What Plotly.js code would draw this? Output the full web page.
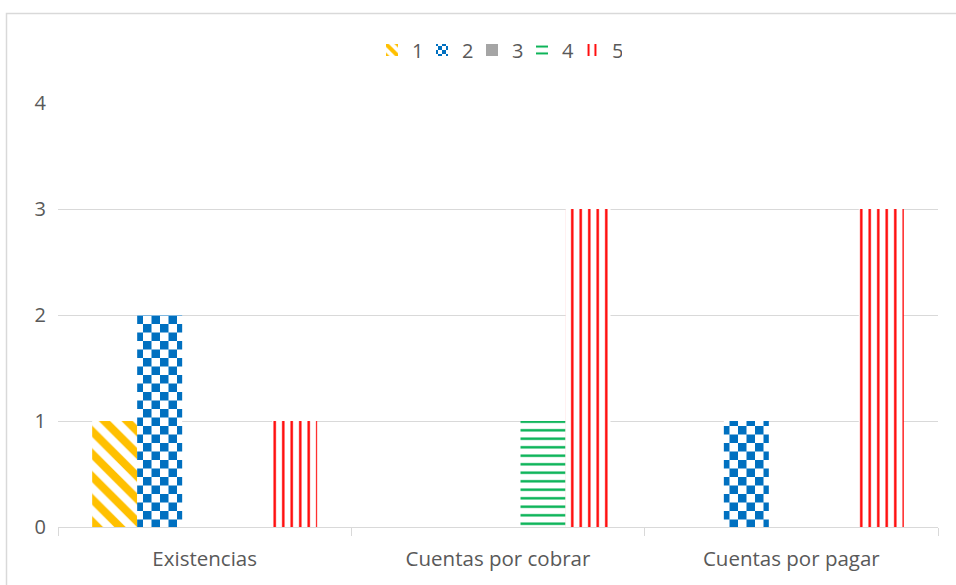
<!DOCTYPE html>
<html>
<head>
<meta charset="utf-8">
<script src="https://cdn.plot.ly/plotly-3.0.1.min.js"></script>
<style>
html,body{margin:0;padding:0;background:#fff;}
#chart{width:956px;height:585px;}
</style>
</head>
<body>
<div id="chart"></div>
<script>
const categories = ["Existencias", "Cuentas por cobrar", "Cuentas por pagar"];
const seriesNames = ["1", "2", "3", "4", "5"];
const s1 = [1, 0, 0];
const s2 = [2, 0, 1];
const s3 = [0, 0, 0];
const s4 = [0, 1, 0];
const s5 = [1, 3, 3];
const yTicks = [0, 1, 2, 3, 4];

const colors = ["#FFC000", "#0070C0", "#A5A5A5", "#00B050", "#FF0000"];
const patterns = [
  {shape: "\\", size: 16, solidity: 0.5},
  {shape: "+", size: 17, solidity: 0.5},
  {shape: "", size: 8, solidity: 0.5},
  {shape: "-", size: 8.5, solidity: 0.28},
  {shape: "|", size: 8.5, solidity: 0.28}
];
const values = [s1, s2, s3, s4, s5];

const traces = values.map((v, i) => ({
  type: "bar",
  name: seriesNames[i],
  x: categories,
  y: v,
  marker: {
    color: patterns[i].shape === "" ? colors[i] : "#ffffff",
    opacity: 1,
    line: {width: 0},
    pattern: patterns[i].shape === "" ? {shape: ""} : {
      shape: patterns[i].shape,
      fgcolor: colors[i],
      fgopacity: 1,
      bgcolor: "#ffffff",
      size: patterns[i].size,
      solidity: patterns[i].solidity,
      fillmode: "replace"
    }
  },
  hoverinfo: "skip"
}));

const plotL = 58, plotR = 938, plotT = 103, plotB = 527;
const W = 956, H = 585;
const pw = plotR - plotL, ph = plotB - plotT;

const layout = {
  width: W, height: H,
  margin: {l: plotL, r: W - plotR, t: plotT, b: H - plotB, pad: 0},
  paper_bgcolor: "#ffffff",
  plot_bgcolor: "#ffffff",
  barmode: "group",
  bargap: 0.233,
  bargroupgap: 0,
  font: {family: "Open Sans, Liberation Sans, sans-serif", color: "#595959", size: 20},
  showlegend: true,
  legend: {
    orientation: "h",
    x: (372 - plotL) / pw, xanchor: "left",
    y: (plotB - 50) / ph, yanchor: "middle",
    font: {size: 20, color: "#595959"},
    itemwidth: 30,
    entrywidth: 5,
    entrywidthmode: "pixels",
    tracegroupgap: 0
  },
  xaxis: {
    type: "category",
    showline: true, linecolor: "#d9d9d9", linewidth: 1,
    ticks: "outside", tickson: "boundaries", ticklen: 8, tickcolor: "#d9d9d9", tickwidth: 1,
    ticklabelstandoff: 13,
    showgrid: false,
    tickfont: {size: 20.5, color: "#595959"},
    fixedrange: true
  },
  yaxis: {
    range: [0, 4],
    tickvals: yTicks,
    ticktext: yTicks.map(String),
    showgrid: true, gridcolor: "#d9d9d9", gridwidth: 1,
    zeroline: false, showline: false,
    ticks: "", ticklabelstandoff: 11,
    tickfont: {size: 20, color: "#595959"},
    fixedrange: true
  },
  shapes: [{
    type: "rect", xref: "paper", yref: "paper",
    x0: (6.5 - plotL) / pw, x1: (W + 20 - plotL) / pw,
    y0: (plotB - (H + 20)) / ph, y1: (plotB - 13.5) / ph,
    line: {color: "#d9d9d9", width: 1.5},
    fillcolor: "rgba(0,0,0,0)",
    layer: "below"
  }]
};

function patchChecker(gd) {
  const pats = gd.querySelectorAll("pattern");
  pats.forEach(p => {
    const path = p.querySelector("path");
    if (!path) return;
    const st = (path.getAttribute("style") || "") + " " + (path.getAttribute("stroke") || "") + " " + (path.getAttribute("fill") || "");
    if (/0,\s*112,\s*192|#0070c0/i.test(st)) {
      const w = parseFloat(p.getAttribute("width"));
      const h = parseFloat(p.getAttribute("height"));
      const hw = w / 2, hh = h / 2;
      path.setAttribute("d", `M0,0H${hw}V${hh}H0Z M${hw},${hh}H${w}V${h}H${hw}Z`);
      path.setAttribute("style", "fill:#0070C0;fill-opacity:1;stroke:none;");
      path.removeAttribute("opacity");
    }
  });
}

Plotly.newPlot("chart", traces, layout, {displayModeBar: false, staticPlot: true}).then(gd => {
  patchChecker(gd);
});
</script>
</body>
</html>
